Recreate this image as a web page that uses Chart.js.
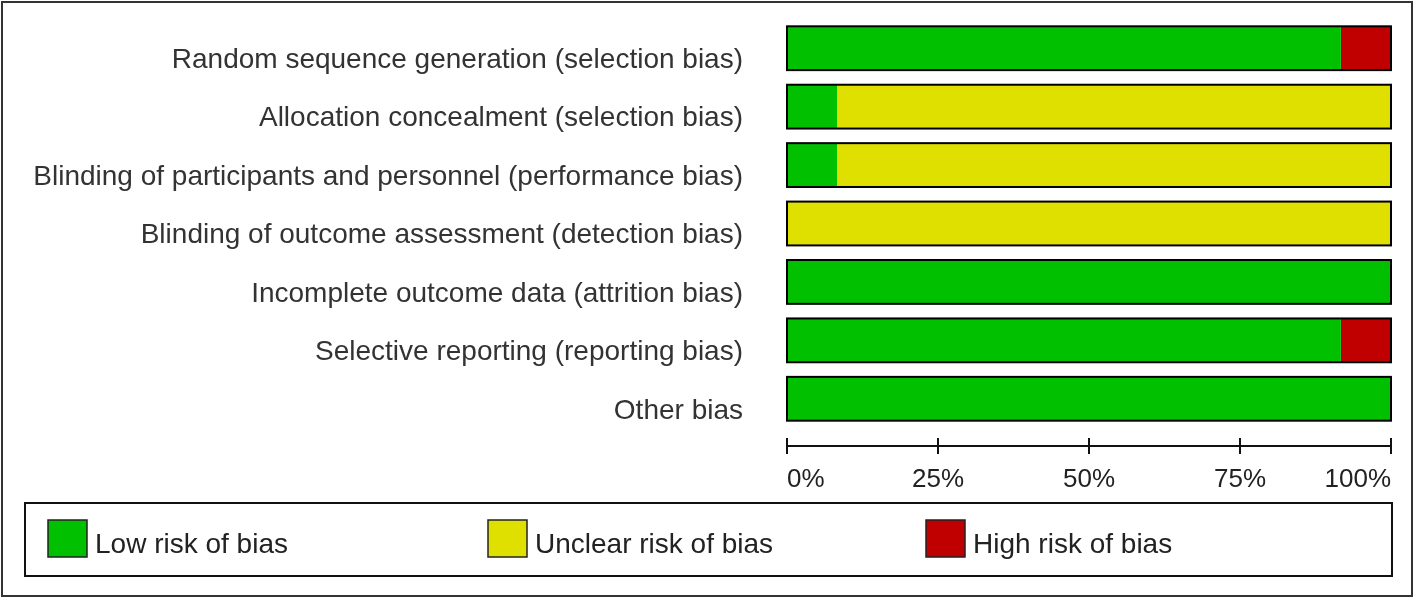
<!DOCTYPE html>
<html>
<head>
<meta charset="utf-8">
<script src="https://cdn.jsdelivr.net/npm/chart.js@4"></script>
<style>
  html, body { margin: 0; padding: 0; background: #fff; }
  #wrap { width: 1418px; height: 600px; }
</style>
</head>
<body>
<div id="wrap"><canvas id="myChart" width="1418" height="600"></canvas></div>
<script>
    "use strict";

    // risk of bias domains (12 studies, values in percent)
    var domains = [
        'Random sequence generation (selection bias)',
        'Allocation concealment (selection bias)',
        'Blinding of participants and personnel (performance bias)',
        'Blinding of outcome assessment (detection bias)',
        'Incomplete outcome data (attrition bias)',
        'Selective reporting (reporting bias)',
        'Other bias'
    ];
    var lowRisk = [91.7, 8.3, 8.3, 0, 100, 91.7, 100];
    var unclearRisk = [0, 91.7, 91.7, 100, 0, 0, 0];
    var highRisk = [8.3, 0, 0, 0, 0, 8.3, 0];
    var xTicks = [0, 25, 50, 75, 100];

    var FONT = '"Liberation Sans", Arial, sans-serif';

    /* frame, bar outlines, axis and legend */
    var decorPlugin = {
        id: 'decor',
        afterDatasetsDraw: function (chart) {
            var ctx = chart.ctx;
            var x = chart.scales.x;
            var meta = chart.getDatasetMeta(0);
            ctx.save();
            ctx.strokeStyle = '#000';
            ctx.lineWidth = 2;
            meta.data.forEach(function (bar) {
                var p = bar.getProps(['y', 'height'], true);
                var x0 = x.getPixelForValue(0), x1 = x.getPixelForValue(100);
                ctx.strokeRect(x0, p.y - p.height / 2, x1 - x0, p.height);
            });
            ctx.restore();
        },
        afterDraw: function (chart) {
            var ctx = chart.ctx;
            var x = chart.scales.x;
            ctx.save();
            // outer frame
            ctx.strokeStyle = '#333';
            ctx.lineWidth = 2;
            ctx.strokeRect(2, 2, 1410, 594);

            // x axis line and ticks
            var axisY = 446;
            ctx.strokeStyle = '#111';
            ctx.lineWidth = 2;
            ctx.beginPath();
            ctx.moveTo(x.getPixelForValue(0), axisY);
            ctx.lineTo(x.getPixelForValue(100), axisY);
            xTicks.forEach(function (v) {
                var px = Math.round(x.getPixelForValue(v));
                ctx.moveTo(px, axisY - 8);
                ctx.lineTo(px, axisY + 8);
            });
            ctx.stroke();

            // legend box
            ctx.strokeStyle = '#111';
            ctx.lineWidth = 2;
            ctx.strokeRect(25, 503, 1367, 73);
            var itemX = [48, 488, 926];
            ctx.font = '28px ' + FONT;
            ctx.textBaseline = 'middle';
            chart.data.datasets.forEach(function (ds, i) {
                ctx.fillStyle = ds.backgroundColor;
                ctx.fillRect(itemX[i], 520, 39, 37);
                ctx.strokeStyle = '#222';
                ctx.lineWidth = 1.5;
                ctx.strokeRect(itemX[i], 520, 39, 37);
                ctx.fillStyle = '#222';
                ctx.fillText(ds.label, itemX[i] + 47, 545);
            });
            ctx.restore();
        }
    };

    var ctx = document.getElementById('myChart').getContext('2d');
    var chart = new Chart(ctx, {
        type: 'bar',
        data: {
            labels: domains,
            datasets: [
                { label: 'Low risk of bias', backgroundColor: '#00c000', data: lowRisk },
                { label: 'Unclear risk of bias', backgroundColor: '#e0e000', data: unclearRisk },
                { label: 'High risk of bias', backgroundColor: '#c00000', data: highRisk }
            ]
        },
        options: {
            indexAxis: 'y',
            responsive: false,
            animation: false,
            layout: {
                padding: { top: 19, right: 27, bottom: 0, left: 0 }
            },
            datasets: {
                bar: {
                    categoryPercentage: 1,
                    barPercentage: 0.75,
                    borderWidth: 0
                }
            },
            plugins: {
                legend: { display: false },
                tooltip: { enabled: false }
            },
            scales: {
                x: {
                    stacked: true,
                    min: 0,
                    max: 100,
                    afterFit: function (scale) {
                        scale.height = 172;
                        scale.paddingLeft = 0;
                        scale.paddingRight = 0;
                    },
                    afterBuildTicks: function (scale) {
                        scale.ticks = xTicks.map(function (v) { return { value: v }; });
                    },
                    grid: { display: false, drawTicks: false },
                    border: { display: false },
                    ticks: {
                        align: 'inner',
                        padding: 36,
                        color: '#222',
                        font: { family: FONT, size: 26 },
                        callback: function (v) { return v + '%'; }
                    }
                },
                y: {
                    stacked: true,
                    afterFit: function (scale) {
                        scale.width = 787;
                        scale.paddingTop = 0;
                        scale.paddingBottom = 0;
                    },
                    grid: { display: false, drawTicks: false },
                    border: { display: false },
                    ticks: {
                        padding: 44,
                        labelOffset: 12,
                        color: '#333',
                        font: { family: FONT, size: 28 }
                    }
                }
            }
        },
        plugins: [decorPlugin]
    });
</script>
</body>
</html>
